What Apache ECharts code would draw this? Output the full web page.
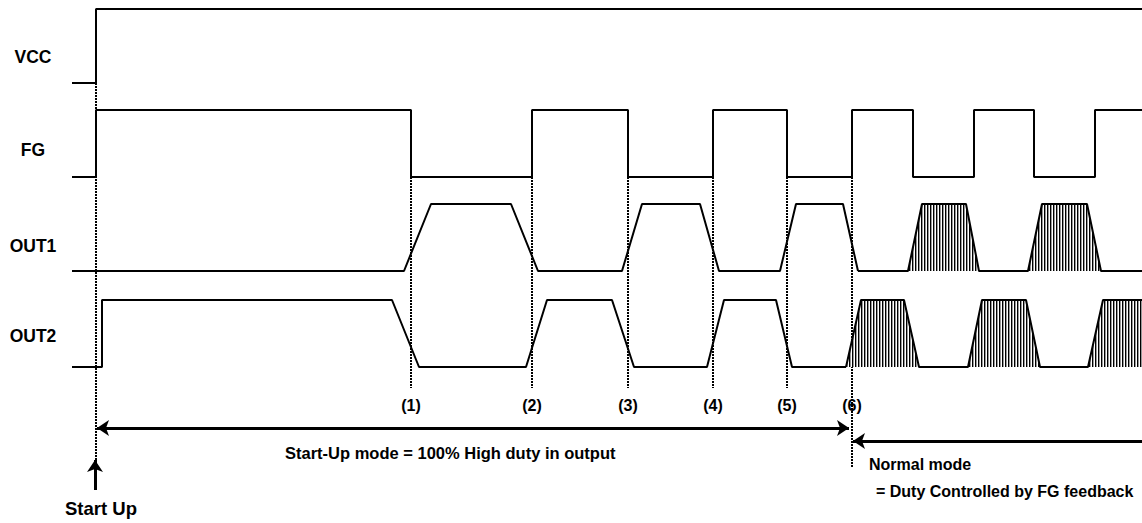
<!DOCTYPE html>
<html><head><meta charset="utf-8">
<script src="https://cdn.jsdelivr.net/npm/echarts@6/dist/echarts.min.js"></script>
<style>html,body{margin:0;padding:0;background:#fff}#c{width:1142px;height:523px}</style>
</head><body><div id="c"></div><script>
// ---- data (time units, levels 0 = low, 1 = high) ----
const signalNames = ['VCC', 'FG', 'OUT1', 'OUT2'];
const vccWave = [[-24, 0], [0, 0], [0, 1], [1046, 1]];
const fgEdges = [0, 315, 436, 532, 617, 691, 756, 817, 878, 938, 999];
const out1Startup = [[-24, 0], [308, 0], [335, 1], [415, 1], [442, 0], [526, 0], [546, 1], [604, 1], [623, 0], [684, 0], [700, 1], [747, 1], [762, 0]];
const out1Normal = [[762, 0], [812, 0], [826, 1], [870, 1], [883, 0], [932, 0], [946, 1], [991, 1], [1005, 0], [1046, 0]];
const out2Startup = [[-24, 0], [6, 0], [6, 1], [296, 1], [323, 0], [430, 0], [451, 1], [516, 1], [538, 0], [611, 0], [628, 1], [680, 1], [696, 0], [750, 0]];
const out2Normal = [[750, 0], [765, 1], [808, 1], [823, 0], [872, 0], [886, 1], [930, 1], [944, 0], [992, 0], [1007, 1], [1046, 1]];
const eventLabels = ['(1)', '(2)', '(3)', '(4)', '(5)', '(6)'];
const eventTimes = fgEdges.slice(1, 7);
const startUpTime = 0;
const normalStartTime = 756;
const startupText = 'Start-Up mode = 100% High duty in output';
const normalText1 = 'Normal mode';
const normalText2 = '= Duty Controlled by FG feedback';
const startUpLabel = 'Start Up';

// ---- layout ----
const T_MIN = -96, T_MAX = 1046;
const rowLayout = { VCC: [9, 83], FG: [110, 177], OUT1: [204, 271], OUT2: [300, 367] }; // [high y, low y]
const rowLabelY = { VCC: 57, FG: 150, OUT1: 246, OUT2: 336 };
const FONT = '"Liberation Sans", Arial, sans-serif';

function toY(name, pts) {
  const [hi, lo] = rowLayout[name];
  return pts.map(p => [p[0], lo + (hi - lo) * p[1]]);
}
function edgesToWave(edges, start, end) {
  const pts = [[start, 0]];
  let lvl = 0;
  edges.forEach(t => { pts.push([t, lvl]); lvl = 1 - lvl; pts.push([t, lvl]); });
  pts.push([end, lvl]);
  return pts;
}
const fgWave = edgesToWave(fgEdges, -24, T_MAX);

// hatch pattern
const pc = document.createElement('canvas');
pc.width = 3; pc.height = 4;
const pctx = pc.getContext('2d');
pctx.fillStyle = '#fff'; pctx.fillRect(0, 0, 3, 4);
pctx.fillStyle = '#000'; pctx.fillRect(0, 0, 1, 4);
pctx.fillStyle = 'rgba(0,0,0,0.4)'; pctx.fillRect(1, 0, 1, 4);

const waveStyle = { color: '#000', width: 2 };
function wave(data, extra) {
  return Object.assign({ type: 'line', data: data, showSymbol: false, symbol: 'none', lineStyle: waveStyle, silent: true, z: 3 }, extra || {});
}
function dotted(t, y0, y1) {
  return { type: 'line', data: [[t, y0], [t, y1]], showSymbol: false, symbol: 'none', silent: true, z: 2,
    lineStyle: { color: '#000', width: 2, type: [2, 1] } };
}

const series = [
  wave(toY('VCC', vccWave)),
  wave(toY('FG', fgWave)),
  wave(toY('OUT1', out1Startup)),
  wave(toY('OUT1', out1Normal), { areaStyle: { color: { image: pc, repeat: 'repeat' }, opacity: 1, origin: rowLayout.OUT1[1] } }),
  wave(toY('OUT2', out2Startup)),
  wave(toY('OUT2', out2Normal), { areaStyle: { color: { image: pc, repeat: 'repeat' }, opacity: 1, origin: rowLayout.OUT2[1] } }),
  dotted(startUpTime, rowLayout.VCC[1], 460)
];
eventTimes.forEach((t, i) => {
  series.push(dotted(t, rowLayout.FG[1], i === 5 ? 467 : 388));
});
series.push({
  type: 'lines', coordinateSystem: 'cartesian2d', silent: true, z: 4,
  lineStyle: { color: '#000', width: 3, opacity: 1 },
  symbol: ['arrow', 'arrow'], symbolSize: 12,
  data: [{ coords: [[startUpTime + 1, 428], [normalStartTime - 3, 428]] }]
});
series.push({
  type: 'lines', coordinateSystem: 'cartesian2d', silent: true, z: 4,
  lineStyle: { color: '#000', width: 3, opacity: 1 },
  symbol: ['none', 'arrow'], symbolSize: 12,
  data: [{ coords: [[T_MAX, 441], [normalStartTime + 1, 441]] }, { coords: [[startUpTime - 1, 490], [startUpTime - 1, 460]] }]
});

const chart = echarts.init(document.getElementById('c'), null, { renderer: 'svg' });
chart.setOption({
  animation: false,
  backgroundColor: '#fff',
  grid: { left: 0, right: 0, top: 0, bottom: 0 },
  xAxis: { type: 'value', min: T_MIN, max: T_MAX, show: false },
  yAxis: { type: 'value', min: 0, max: 523, inverse: true, show: false },
  series: series
});

function txt(text, x, y, size, align, valign) {
  return { type: 'text', x: x, y: y, silent: true, z: 10,
    style: { text: text, font: 'bold ' + size + 'px ' + FONT, fill: '#000', textAlign: align, textVerticalAlign: valign } };
}
const graphic = signalNames.map(n => txt(n, 33, rowLabelY[n], 17.5, 'center', 'middle'));
eventTimes.forEach((t, i) => {
  const p = chart.convertToPixel({ xAxisIndex: 0, yAxisIndex: 0 }, [t, 405]);
  graphic.push(txt(eventLabels[i], p[0], p[1], 16, 'center', 'middle'));
});
graphic.push(txt(startupText, 285, 453, 16.5, 'left', 'middle'));
graphic.push(txt(normalText1, 869, 464, 16, 'left', 'middle'));
graphic.push(txt(normalText2, 876, 491, 16, 'left', 'middle'));
const su = chart.convertToPixel({ xAxisIndex: 0, yAxisIndex: 0 }, [startUpTime, 508]);
graphic.push(txt(startUpLabel, su[0] + 5, su[1], 18.5, 'center', 'middle'));
chart.setOption({ graphic: graphic });
</script></body></html>
